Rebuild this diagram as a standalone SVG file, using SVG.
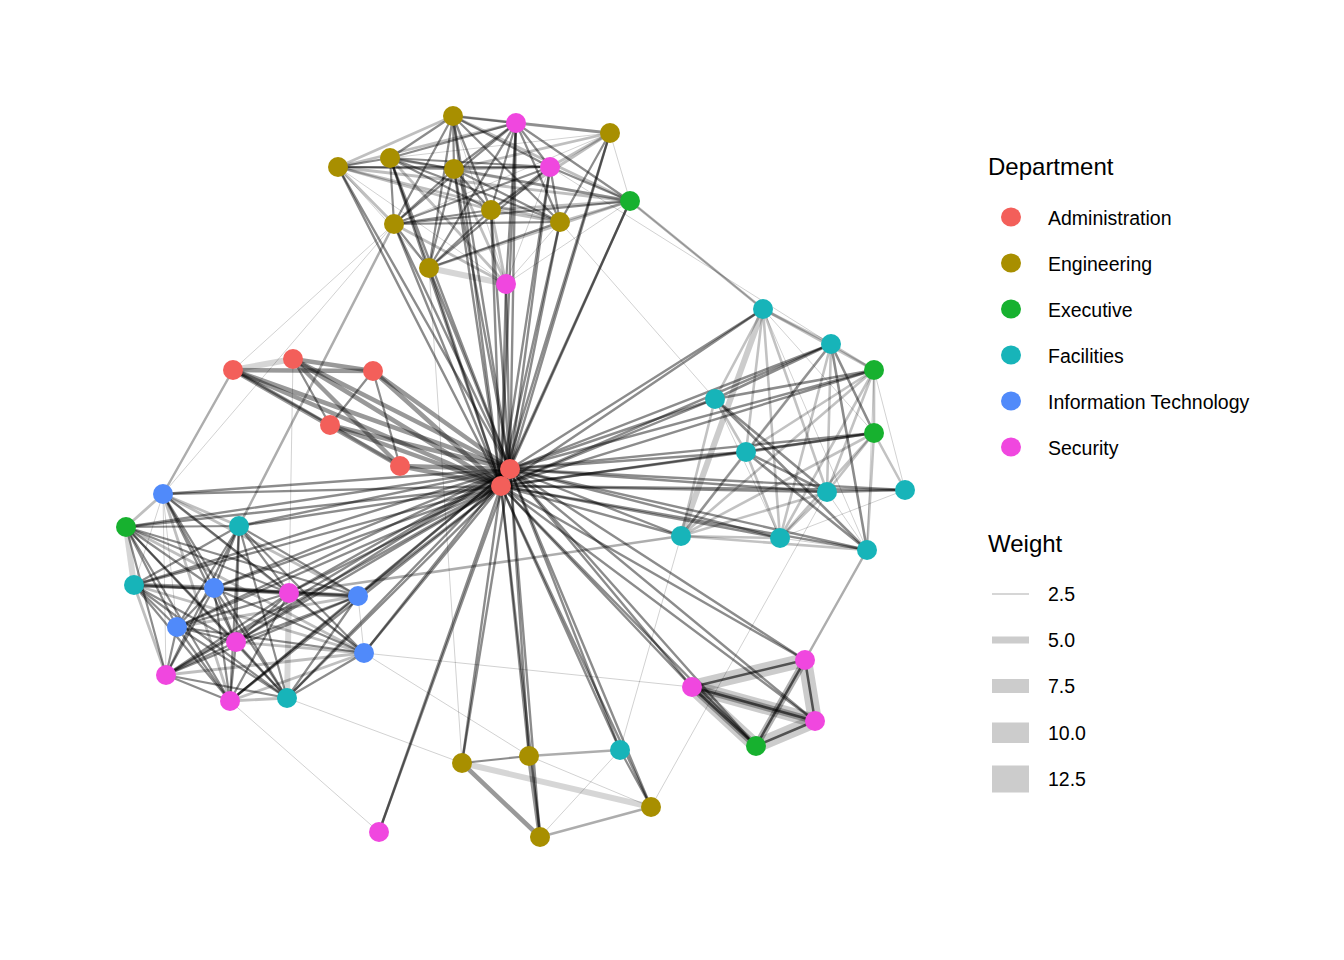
<svg xmlns="http://www.w3.org/2000/svg" width="1344" height="960" viewBox="0 0 1344 960">
<style>
line{fill:none;stroke:#000;stroke-linecap:round}
.h{stroke-opacity:.45;stroke-width:2.4}
.hb{stroke-opacity:.4;stroke-width:4.5}
.c{stroke-opacity:.45;stroke-width:2.2}
.c2{stroke-opacity:.25;stroke-width:2.8}
.t{stroke-opacity:.18;stroke-width:1}
.g{stroke-opacity:.16;stroke-width:6}
.m{stroke-opacity:.32;stroke-width:2.5}
.r{stroke-opacity:.24;stroke-width:2.6}
.rd{stroke-opacity:.45;stroke-width:2.6}
.rw{stroke-opacity:.2;stroke-width:6}
.cb{stroke-opacity:.2;stroke-width:14}
.cbm{stroke-opacity:.3;stroke-width:7}
.cbi{stroke-opacity:.6;stroke-width:2.5}
.adm{fill:#F35F5A}.eng{fill:#A88F00}.exe{fill:#17B12F}.fac{fill:#17B4B9}.it{fill:#508AFA}.sec{fill:#F047DF}
text{font-family:"Liberation Sans",Arial,sans-serif;fill:#000}
.lt{font-size:24px}.ll{font-size:19.5px}
.wb{fill:#cccccc}
</style>
<rect width="1344" height="960" fill="#fff"/>
<g id="edges">
<!-- hub edges from A6 -->
<line class="h" x1="510" y1="469" x2="453" y2="116"/>
<line class="h" x1="510" y1="469" x2="516" y2="123"/>
<line class="h" x1="510" y1="469" x2="610" y2="133"/>
<line class="h" x1="510" y1="469" x2="338" y2="167"/>
<line class="h" x1="510" y1="469" x2="390" y2="158"/>
<line class="h" x1="510" y1="469" x2="454" y2="169"/>
<line class="h" x1="510" y1="469" x2="550" y2="167"/>
<line class="h" x1="510" y1="469" x2="630" y2="201"/>
<line class="h" x1="510" y1="469" x2="491" y2="210"/>
<line class="h" x1="510" y1="469" x2="560" y2="222"/>
<line class="h" x1="510" y1="469" x2="394" y2="224"/>
<line class="h" x1="510" y1="469" x2="429" y2="268"/>
<line class="h" x1="510" y1="469" x2="506" y2="284"/>
<line class="hb" x1="510" y1="469" x2="233" y2="370"/>
<line class="hb" x1="510" y1="469" x2="293" y2="359"/>
<line class="hb" x1="510" y1="469" x2="373" y2="371"/>
<line class="hb" x1="510" y1="469" x2="330" y2="425"/>
<line class="hb" x1="510" y1="469" x2="400" y2="466"/>
<line class="h" x1="510" y1="469" x2="163" y2="494"/>
<line class="h" x1="510" y1="469" x2="126" y2="527"/>
<line class="h" x1="510" y1="469" x2="239" y2="526"/>
<line class="h" x1="510" y1="469" x2="134" y2="585"/>
<line class="h" x1="510" y1="469" x2="214" y2="588"/>
<line class="h" x1="510" y1="469" x2="289" y2="593"/>
<line class="h" x1="510" y1="469" x2="358" y2="596"/>
<line class="h" x1="510" y1="469" x2="177" y2="627"/>
<line class="h" x1="510" y1="469" x2="236" y2="642"/>
<line class="h" x1="510" y1="469" x2="364" y2="653"/>
<line class="h" x1="510" y1="469" x2="166" y2="675"/>
<line class="h" x1="510" y1="469" x2="230" y2="701"/>
<line class="h" x1="510" y1="469" x2="287" y2="698"/>
<line class="h" x1="510" y1="469" x2="763" y2="309"/>
<line class="h" x1="510" y1="469" x2="831" y2="344"/>
<line class="h" x1="510" y1="469" x2="874" y2="370"/>
<line class="h" x1="510" y1="469" x2="715" y2="399"/>
<line class="h" x1="510" y1="469" x2="874" y2="433"/>
<line class="h" x1="510" y1="469" x2="746" y2="452"/>
<line class="h" x1="510" y1="469" x2="827" y2="492"/>
<line class="h" x1="510" y1="469" x2="905" y2="490"/>
<line class="h" x1="510" y1="469" x2="681" y2="536"/>
<line class="h" x1="510" y1="469" x2="780" y2="538"/>
<line class="h" x1="510" y1="469" x2="867" y2="550"/>
<line class="h" x1="510" y1="469" x2="805" y2="660"/>
<line class="h" x1="510" y1="469" x2="692" y2="687"/>
<line class="h" x1="510" y1="469" x2="815" y2="721"/>
<line class="h" x1="510" y1="469" x2="756" y2="746"/>
<line class="h" x1="510" y1="469" x2="462" y2="763"/>
<line class="h" x1="510" y1="469" x2="529" y2="756"/>
<line class="h" x1="510" y1="469" x2="620" y2="750"/>
<line class="h" x1="510" y1="469" x2="651" y2="807"/>
<line class="h" x1="510" y1="469" x2="540" y2="837"/>
<line class="h" x1="510" y1="469" x2="379" y2="832"/>
<!-- hub edges from A7 -->
<line class="h" x1="501" y1="486" x2="453" y2="116"/>
<line class="h" x1="501" y1="486" x2="516" y2="123"/>
<line class="h" x1="501" y1="486" x2="610" y2="133"/>
<line class="h" x1="501" y1="486" x2="338" y2="167"/>
<line class="h" x1="501" y1="486" x2="390" y2="158"/>
<line class="h" x1="501" y1="486" x2="454" y2="169"/>
<line class="h" x1="501" y1="486" x2="550" y2="167"/>
<line class="h" x1="501" y1="486" x2="630" y2="201"/>
<line class="h" x1="501" y1="486" x2="491" y2="210"/>
<line class="h" x1="501" y1="486" x2="560" y2="222"/>
<line class="h" x1="501" y1="486" x2="394" y2="224"/>
<line class="h" x1="501" y1="486" x2="429" y2="268"/>
<line class="h" x1="501" y1="486" x2="506" y2="284"/>
<line class="hb" x1="501" y1="486" x2="233" y2="370"/>
<line class="hb" x1="501" y1="486" x2="293" y2="359"/>
<line class="hb" x1="501" y1="486" x2="373" y2="371"/>
<line class="hb" x1="501" y1="486" x2="330" y2="425"/>
<line class="hb" x1="501" y1="486" x2="400" y2="466"/>
<line class="h" x1="501" y1="486" x2="163" y2="494"/>
<line class="h" x1="501" y1="486" x2="126" y2="527"/>
<line class="h" x1="501" y1="486" x2="239" y2="526"/>
<line class="h" x1="501" y1="486" x2="134" y2="585"/>
<line class="h" x1="501" y1="486" x2="214" y2="588"/>
<line class="h" x1="501" y1="486" x2="289" y2="593"/>
<line class="h" x1="501" y1="486" x2="358" y2="596"/>
<line class="h" x1="501" y1="486" x2="177" y2="627"/>
<line class="h" x1="501" y1="486" x2="236" y2="642"/>
<line class="h" x1="501" y1="486" x2="364" y2="653"/>
<line class="h" x1="501" y1="486" x2="166" y2="675"/>
<line class="h" x1="501" y1="486" x2="230" y2="701"/>
<line class="h" x1="501" y1="486" x2="287" y2="698"/>
<line class="h" x1="501" y1="486" x2="763" y2="309"/>
<line class="h" x1="501" y1="486" x2="831" y2="344"/>
<line class="h" x1="501" y1="486" x2="874" y2="370"/>
<line class="h" x1="501" y1="486" x2="715" y2="399"/>
<line class="h" x1="501" y1="486" x2="874" y2="433"/>
<line class="h" x1="501" y1="486" x2="746" y2="452"/>
<line class="h" x1="501" y1="486" x2="827" y2="492"/>
<line class="h" x1="501" y1="486" x2="905" y2="490"/>
<line class="h" x1="501" y1="486" x2="681" y2="536"/>
<line class="h" x1="501" y1="486" x2="780" y2="538"/>
<line class="h" x1="501" y1="486" x2="867" y2="550"/>
<line class="h" x1="501" y1="486" x2="805" y2="660"/>
<line class="h" x1="501" y1="486" x2="692" y2="687"/>
<line class="h" x1="501" y1="486" x2="815" y2="721"/>
<line class="h" x1="501" y1="486" x2="756" y2="746"/>
<line class="h" x1="501" y1="486" x2="462" y2="763"/>
<line class="h" x1="501" y1="486" x2="529" y2="756"/>
<line class="h" x1="501" y1="486" x2="620" y2="750"/>
<line class="h" x1="501" y1="486" x2="651" y2="807"/>
<line class="h" x1="501" y1="486" x2="540" y2="837"/>
<line class="h" x1="501" y1="486" x2="379" y2="832"/>
<line class="hb" x1="501" y1="486" x2="510" y2="469"/>
<!-- top cluster -->
<line class="c" x1="453" y1="116" x2="516" y2="123"/>
<line class="c2" x1="453" y1="116" x2="610" y2="133"/>
<line class="c2" x1="453" y1="116" x2="338" y2="167"/>
<line class="c" x1="453" y1="116" x2="390" y2="158"/>
<line class="c" x1="453" y1="116" x2="454" y2="169"/>
<line class="c" x1="453" y1="116" x2="550" y2="167"/>
<line class="c2" x1="453" y1="116" x2="630" y2="201"/>
<line class="c" x1="453" y1="116" x2="491" y2="210"/>
<line class="c" x1="453" y1="116" x2="560" y2="222"/>
<line class="c" x1="453" y1="116" x2="394" y2="224"/>
<line class="c" x1="453" y1="116" x2="429" y2="268"/>
<line class="t" x1="453" y1="116" x2="506" y2="284"/>
<line class="c2" x1="516" y1="123" x2="610" y2="133"/>
<line class="c2" x1="516" y1="123" x2="338" y2="167"/>
<line class="c" x1="516" y1="123" x2="390" y2="158"/>
<line class="c" x1="516" y1="123" x2="454" y2="169"/>
<line class="c" x1="516" y1="123" x2="550" y2="167"/>
<line class="c" x1="516" y1="123" x2="630" y2="201"/>
<line class="c" x1="516" y1="123" x2="491" y2="210"/>
<line class="c" x1="516" y1="123" x2="560" y2="222"/>
<line class="c" x1="516" y1="123" x2="394" y2="224"/>
<line class="c" x1="516" y1="123" x2="429" y2="268"/>
<line class="c" x1="516" y1="123" x2="506" y2="284"/>
<line class="c2" x1="610" y1="133" x2="550" y2="167"/>
<line class="c2" x1="610" y1="133" x2="454" y2="169"/>
<line class="t" x1="610" y1="133" x2="390" y2="158"/>
<line class="t" x1="610" y1="133" x2="394" y2="224"/>
<line class="c" x1="610" y1="133" x2="560" y2="222"/>
<line class="t" x1="610" y1="133" x2="630" y2="201"/>
<line class="c2" x1="610" y1="133" x2="491" y2="210"/>
<line class="c" x1="338" y1="167" x2="390" y2="158"/>
<line class="c" x1="338" y1="167" x2="454" y2="169"/>
<line class="c" x1="338" y1="167" x2="550" y2="167"/>
<line class="c2" x1="338" y1="167" x2="491" y2="210"/>
<line class="c2" x1="338" y1="167" x2="630" y2="201"/>
<line class="c2" x1="338" y1="167" x2="560" y2="222"/>
<line class="c2" x1="338" y1="167" x2="394" y2="224"/>
<line class="t" x1="338" y1="167" x2="429" y2="268"/>
<line class="t" x1="338" y1="167" x2="506" y2="284"/>
<line class="c" x1="390" y1="158" x2="454" y2="169"/>
<line class="c" x1="390" y1="158" x2="550" y2="167"/>
<line class="c" x1="390" y1="158" x2="394" y2="224"/>
<line class="c" x1="390" y1="158" x2="429" y2="268"/>
<line class="c" x1="390" y1="158" x2="491" y2="210"/>
<line class="c" x1="390" y1="158" x2="560" y2="222"/>
<line class="c2" x1="390" y1="158" x2="630" y2="201"/>
<line class="c2" x1="390" y1="158" x2="506" y2="284"/>
<line class="c" x1="454" y1="169" x2="550" y2="167"/>
<line class="c" x1="454" y1="169" x2="429" y2="268"/>
<line class="c" x1="454" y1="169" x2="491" y2="210"/>
<line class="c" x1="454" y1="169" x2="560" y2="222"/>
<line class="c2" x1="454" y1="169" x2="630" y2="201"/>
<line class="c" x1="454" y1="169" x2="394" y2="224"/>
<line class="c2" x1="454" y1="169" x2="506" y2="284"/>
<line class="c" x1="550" y1="167" x2="394" y2="224"/>
<line class="c" x1="550" y1="167" x2="429" y2="268"/>
<line class="c" x1="550" y1="167" x2="491" y2="210"/>
<line class="c" x1="550" y1="167" x2="560" y2="222"/>
<line class="c" x1="550" y1="167" x2="630" y2="201"/>
<line class="t" x1="550" y1="167" x2="506" y2="284"/>
<line class="c" x1="394" y1="224" x2="429" y2="268"/>
<line class="c" x1="394" y1="224" x2="491" y2="210"/>
<line class="c" x1="394" y1="224" x2="560" y2="222"/>
<line class="c" x1="394" y1="224" x2="630" y2="201"/>
<line class="c2" x1="394" y1="224" x2="506" y2="284"/>
<line class="g" x1="429" y1="268" x2="506" y2="284"/>
<line class="c" x1="429" y1="268" x2="491" y2="210"/>
<line class="c" x1="429" y1="268" x2="560" y2="222"/>
<line class="c2" x1="429" y1="268" x2="630" y2="201"/>
<line class="c2" x1="491" y1="210" x2="560" y2="222"/>
<line class="c2" x1="491" y1="210" x2="630" y2="201"/>
<line class="c2" x1="491" y1="210" x2="506" y2="284"/>
<line class="c2" x1="560" y1="222" x2="630" y2="201"/>
<line class="t" x1="560" y1="222" x2="506" y2="284"/>
<line class="t" x1="630" y1="201" x2="506" y2="284"/>
<!-- admin cluster -->
<line class="g" x1="233" y1="370" x2="293" y2="359"/>
<line class="hb" x1="233" y1="370" x2="373" y2="371"/>
<line class="c" x1="233" y1="370" x2="330" y2="425"/>
<line class="hb" x1="233" y1="370" x2="400" y2="466"/>
<line class="hb" x1="293" y1="359" x2="373" y2="371"/>
<line class="c" x1="293" y1="359" x2="330" y2="425"/>
<line class="hb" x1="293" y1="359" x2="400" y2="466"/>
<line class="c" x1="373" y1="371" x2="330" y2="425"/>
<line class="c" x1="373" y1="371" x2="400" y2="466"/>
<line class="c2" x1="330" y1="425" x2="400" y2="466"/>
<!-- left cluster -->
<line class="c2" x1="163" y1="494" x2="126" y2="527"/>
<line class="c2" x1="163" y1="494" x2="239" y2="526"/>
<line class="t" x1="163" y1="494" x2="134" y2="585"/>
<line class="c" x1="163" y1="494" x2="214" y2="588"/>
<line class="c" x1="163" y1="494" x2="289" y2="593"/>
<line class="c2" x1="163" y1="494" x2="358" y2="596"/>
<line class="t" x1="163" y1="494" x2="177" y2="627"/>
<line class="c" x1="163" y1="494" x2="236" y2="642"/>
<line class="c2" x1="163" y1="494" x2="364" y2="653"/>
<line class="t" x1="163" y1="494" x2="166" y2="675"/>
<line class="c2" x1="163" y1="494" x2="230" y2="701"/>
<line class="c" x1="163" y1="494" x2="287" y2="698"/>
<line class="c" x1="126" y1="527" x2="239" y2="526"/>
<line class="g" x1="126" y1="527" x2="134" y2="585"/>
<line class="c" x1="126" y1="527" x2="214" y2="588"/>
<line class="c" x1="126" y1="527" x2="289" y2="593"/>
<line class="c" x1="126" y1="527" x2="358" y2="596"/>
<line class="c" x1="126" y1="527" x2="177" y2="627"/>
<line class="c" x1="126" y1="527" x2="236" y2="642"/>
<line class="c2" x1="126" y1="527" x2="364" y2="653"/>
<line class="c" x1="126" y1="527" x2="166" y2="675"/>
<line class="c" x1="126" y1="527" x2="230" y2="701"/>
<line class="c" x1="126" y1="527" x2="287" y2="698"/>
<line class="c" x1="239" y1="526" x2="134" y2="585"/>
<line class="c" x1="239" y1="526" x2="214" y2="588"/>
<line class="c" x1="239" y1="526" x2="289" y2="593"/>
<line class="c" x1="239" y1="526" x2="358" y2="596"/>
<line class="c" x1="239" y1="526" x2="177" y2="627"/>
<line class="c" x1="239" y1="526" x2="236" y2="642"/>
<line class="c" x1="239" y1="526" x2="364" y2="653"/>
<line class="c" x1="239" y1="526" x2="166" y2="675"/>
<line class="c" x1="239" y1="526" x2="230" y2="701"/>
<line class="c" x1="239" y1="526" x2="287" y2="698"/>
<line class="hb" x1="134" y1="585" x2="214" y2="588"/>
<line class="c" x1="134" y1="585" x2="289" y2="593"/>
<line class="c2" x1="134" y1="585" x2="358" y2="596"/>
<line class="c" x1="134" y1="585" x2="177" y2="627"/>
<line class="c" x1="134" y1="585" x2="236" y2="642"/>
<line class="c2" x1="134" y1="585" x2="364" y2="653"/>
<line class="c2" x1="134" y1="585" x2="166" y2="675"/>
<line class="c" x1="134" y1="585" x2="230" y2="701"/>
<line class="c" x1="134" y1="585" x2="287" y2="698"/>
<line class="hb" x1="214" y1="588" x2="289" y2="593"/>
<line class="c" x1="214" y1="588" x2="358" y2="596"/>
<line class="c" x1="214" y1="588" x2="177" y2="627"/>
<line class="c" x1="214" y1="588" x2="236" y2="642"/>
<line class="c" x1="214" y1="588" x2="364" y2="653"/>
<line class="c" x1="214" y1="588" x2="166" y2="675"/>
<line class="c" x1="214" y1="588" x2="230" y2="701"/>
<line class="c" x1="214" y1="588" x2="287" y2="698"/>
<line class="hb" x1="289" y1="593" x2="358" y2="596"/>
<line class="c" x1="289" y1="593" x2="177" y2="627"/>
<line class="c" x1="289" y1="593" x2="236" y2="642"/>
<line class="c" x1="289" y1="593" x2="364" y2="653"/>
<line class="c" x1="289" y1="593" x2="166" y2="675"/>
<line class="c" x1="289" y1="593" x2="230" y2="701"/>
<line class="g" x1="289" y1="593" x2="287" y2="698"/>
<line class="c2" x1="358" y1="596" x2="177" y2="627"/>
<line class="c" x1="358" y1="596" x2="236" y2="642"/>
<line class="t" x1="358" y1="596" x2="364" y2="653"/>
<line class="c" x1="358" y1="596" x2="166" y2="675"/>
<line class="c" x1="358" y1="596" x2="230" y2="701"/>
<line class="c" x1="358" y1="596" x2="287" y2="698"/>
<line class="c" x1="177" y1="627" x2="236" y2="642"/>
<line class="c" x1="177" y1="627" x2="364" y2="653"/>
<line class="c" x1="177" y1="627" x2="166" y2="675"/>
<line class="c" x1="177" y1="627" x2="230" y2="701"/>
<line class="c" x1="177" y1="627" x2="287" y2="698"/>
<line class="c2" x1="236" y1="642" x2="364" y2="653"/>
<line class="c" x1="236" y1="642" x2="166" y2="675"/>
<line class="c" x1="236" y1="642" x2="230" y2="701"/>
<line class="c" x1="236" y1="642" x2="287" y2="698"/>
<line class="c2" x1="364" y1="653" x2="166" y2="675"/>
<line class="c2" x1="364" y1="653" x2="230" y2="701"/>
<line class="c" x1="364" y1="653" x2="287" y2="698"/>
<line class="c" x1="166" y1="675" x2="230" y2="701"/>
<line class="c" x1="166" y1="675" x2="287" y2="698"/>
<line class="c2" x1="230" y1="701" x2="287" y2="698"/>
<!-- right cluster -->
<line class="r" x1="763" y1="309" x2="831" y2="344"/>
<line class="r" x1="763" y1="309" x2="874" y2="370"/>
<line class="r" x1="763" y1="309" x2="715" y2="399"/>
<line class="r" x1="763" y1="309" x2="746" y2="452"/>
<line class="rw" x1="763" y1="309" x2="681" y2="536"/>
<line class="r" x1="763" y1="309" x2="780" y2="538"/>
<line class="r" x1="763" y1="309" x2="827" y2="492"/>
<line class="t" x1="763" y1="309" x2="874" y2="433"/>
<line class="t" x1="763" y1="309" x2="867" y2="550"/>
<line class="r" x1="831" y1="344" x2="874" y2="370"/>
<line class="rd" x1="831" y1="344" x2="715" y2="399"/>
<line class="r" x1="831" y1="344" x2="746" y2="452"/>
<line class="r" x1="831" y1="344" x2="681" y2="536"/>
<line class="rd" x1="831" y1="344" x2="874" y2="433"/>
<line class="r" x1="831" y1="344" x2="827" y2="492"/>
<line class="r" x1="831" y1="344" x2="780" y2="538"/>
<line class="rd" x1="831" y1="344" x2="867" y2="550"/>
<line class="rd" x1="874" y1="370" x2="715" y2="399"/>
<line class="r" x1="874" y1="370" x2="746" y2="452"/>
<line class="r" x1="874" y1="370" x2="681" y2="536"/>
<line class="r" x1="874" y1="370" x2="780" y2="538"/>
<line class="r" x1="874" y1="370" x2="827" y2="492"/>
<line class="r" x1="874" y1="370" x2="874" y2="433"/>
<line class="t" x1="874" y1="370" x2="905" y2="490"/>
<line class="t" x1="874" y1="370" x2="867" y2="550"/>
<line class="rd" x1="874" y1="433" x2="746" y2="452"/>
<line class="r" x1="874" y1="433" x2="681" y2="536"/>
<line class="r" x1="874" y1="433" x2="780" y2="538"/>
<line class="r" x1="874" y1="433" x2="867" y2="550"/>
<line class="r" x1="874" y1="433" x2="905" y2="490"/>
<line class="r" x1="874" y1="433" x2="827" y2="492"/>
<line class="r" x1="715" y1="399" x2="746" y2="452"/>
<line class="rd" x1="715" y1="399" x2="827" y2="492"/>
<line class="rd" x1="715" y1="399" x2="867" y2="550"/>
<line class="r" x1="715" y1="399" x2="681" y2="536"/>
<line class="t" x1="715" y1="399" x2="780" y2="538"/>
<line class="rd" x1="746" y1="452" x2="827" y2="492"/>
<line class="r" x1="746" y1="452" x2="780" y2="538"/>
<line class="rd" x1="746" y1="452" x2="867" y2="550"/>
<line class="r" x1="746" y1="452" x2="681" y2="536"/>
<line class="rd" x1="827" y1="492" x2="905" y2="490"/>
<line class="r" x1="827" y1="492" x2="681" y2="536"/>
<line class="r" x1="827" y1="492" x2="780" y2="538"/>
<line class="t" x1="827" y1="492" x2="867" y2="550"/>
<line class="r" x1="681" y1="536" x2="780" y2="538"/>
<line class="r" x1="681" y1="536" x2="867" y2="550"/>
<line class="t" x1="780" y1="538" x2="867" y2="550"/>
<line class="t" x1="905" y1="490" x2="780" y2="538"/>
<!-- lower right cluster -->
<line class="cb" x1="692" y1="687" x2="805" y2="660"/>
<line class="cbi" x1="692" y1="687" x2="805" y2="660"/>
<line class="cb" x1="692" y1="687" x2="815" y2="721"/>
<line class="cbm" x1="692" y1="687" x2="815" y2="721"/>
<line class="cbi" x1="692" y1="687" x2="815" y2="721"/>
<line class="cb" x1="692" y1="687" x2="756" y2="746"/>
<line class="cbm" x1="692" y1="687" x2="756" y2="746"/>
<line class="cbi" x1="692" y1="687" x2="756" y2="746"/>
<line class="cbm" x1="805" y1="660" x2="756" y2="746"/>
<line class="cbi" x1="805" y1="660" x2="756" y2="746"/>
<line class="cb" x1="805" y1="660" x2="815" y2="721"/>
<line class="cbi" x1="805" y1="660" x2="815" y2="721"/>
<line class="cb" x1="815" y1="721" x2="756" y2="746"/>
<line class="cbi" x1="815" y1="721" x2="756" y2="746"/>
<!-- bottom cluster -->
<line class="c" x1="462" y1="763" x2="529" y2="756"/>
<line class="hb" x1="462" y1="763" x2="540" y2="837"/>
<line class="g" x1="462" y1="763" x2="651" y2="807"/>
<line class="hb" x1="529" y1="756" x2="540" y2="837"/>
<line class="m" x1="529" y1="756" x2="620" y2="750"/>
<line class="t" x1="529" y1="756" x2="651" y2="807"/>
<line class="t" x1="620" y1="750" x2="540" y2="837"/>
<line class="m" x1="540" y1="837" x2="651" y2="807"/>
<line class="c" x1="620" y1="750" x2="651" y2="807"/>
<!-- cross-cluster -->
<line class="m" x1="233" y1="370" x2="163" y2="494"/>
<line class="t" x1="233" y1="370" x2="394" y2="224"/>
<line class="t" x1="163" y1="494" x2="394" y2="224"/>
<line class="m" x1="239" y1="526" x2="394" y2="224"/>
<line class="t" x1="293" y1="359" x2="289" y2="593"/>
<line class="m" x1="289" y1="593" x2="681" y2="536"/>
<line class="t" x1="364" y1="653" x2="692" y2="687"/>
<line class="t" x1="364" y1="653" x2="529" y2="756"/>
<line class="t" x1="287" y1="698" x2="462" y2="763"/>
<line class="t" x1="230" y1="701" x2="379" y2="832"/>
<line class="t" x1="429" y1="268" x2="462" y2="763"/>
<line class="t" x1="681" y1="536" x2="620" y2="750"/>
<line class="t" x1="651" y1="807" x2="827" y2="492"/>
<line class="m" x1="867" y1="550" x2="805" y2="660"/>
<line class="m" x1="630" y1="201" x2="763" y2="309"/>
<line class="t" x1="630" y1="201" x2="763" y2="309"/>
<line class="t" x1="560" y1="222" x2="715" y2="399"/>
<line class="t" x1="550" y1="167" x2="831" y2="344"/>
</g>
<g id="nodes">
<g id="n-E1"><circle class="eng" cx="453" cy="116" r="10"/></g>
<g id="n-S1"><circle class="sec" cx="516" cy="123" r="10"/></g>
<g id="n-E2"><circle class="eng" cx="610" cy="133" r="10"/></g>
<g id="n-E3"><circle class="eng" cx="338" cy="167" r="10"/></g>
<g id="n-E4"><circle class="eng" cx="390" cy="158" r="10"/></g>
<g id="n-E5"><circle class="eng" cx="454" cy="169" r="10"/></g>
<g id="n-S2"><circle class="sec" cx="550" cy="167" r="10"/></g>
<g id="n-X1"><circle class="exe" cx="630" cy="201" r="10"/></g>
<g id="n-E6"><circle class="eng" cx="491" cy="210" r="10"/></g>
<g id="n-E7"><circle class="eng" cx="560" cy="222" r="10"/></g>
<g id="n-E8"><circle class="eng" cx="394" cy="224" r="10"/></g>
<g id="n-E9"><circle class="eng" cx="429" cy="268" r="10"/></g>
<g id="n-S3"><circle class="sec" cx="506" cy="284" r="10"/></g>
<g id="n-A1"><circle class="adm" cx="233" cy="370" r="10"/></g>
<g id="n-A2"><circle class="adm" cx="293" cy="359" r="10"/></g>
<g id="n-A3"><circle class="adm" cx="373" cy="371" r="10"/></g>
<g id="n-A4"><circle class="adm" cx="330" cy="425" r="10"/></g>
<g id="n-A5"><circle class="adm" cx="400" cy="466" r="10"/></g>
<g id="n-A6"><circle class="adm" cx="510" cy="469" r="10"/></g>
<g id="n-A7"><circle class="adm" cx="501" cy="486" r="10"/></g>
<g id="n-I1"><circle class="it" cx="163" cy="494" r="10"/></g>
<g id="n-X5"><circle class="exe" cx="126" cy="527" r="10"/></g>
<g id="n-F11"><circle class="fac" cx="239" cy="526" r="10"/></g>
<g id="n-F12"><circle class="fac" cx="134" cy="585" r="10"/></g>
<g id="n-I2"><circle class="it" cx="214" cy="588" r="10"/></g>
<g id="n-S8"><circle class="sec" cx="289" cy="593" r="10"/></g>
<g id="n-I3"><circle class="it" cx="358" cy="596" r="10"/></g>
<g id="n-I4"><circle class="it" cx="177" cy="627" r="10"/></g>
<g id="n-S9"><circle class="sec" cx="236" cy="642" r="10"/></g>
<g id="n-I5"><circle class="it" cx="364" cy="653" r="10"/></g>
<g id="n-S10"><circle class="sec" cx="166" cy="675" r="10"/></g>
<g id="n-S11"><circle class="sec" cx="230" cy="701" r="10"/></g>
<g id="n-F13"><circle class="fac" cx="287" cy="698" r="10"/></g>
<g id="n-F1"><circle class="fac" cx="763" cy="309" r="10"/></g>
<g id="n-F2"><circle class="fac" cx="831" cy="344" r="10"/></g>
<g id="n-X2"><circle class="exe" cx="874" cy="370" r="10"/></g>
<g id="n-F3"><circle class="fac" cx="715" cy="399" r="10"/></g>
<g id="n-X3"><circle class="exe" cx="874" cy="433" r="10"/></g>
<g id="n-F4"><circle class="fac" cx="746" cy="452" r="10"/></g>
<g id="n-F5"><circle class="fac" cx="827" cy="492" r="10"/></g>
<g id="n-F6"><circle class="fac" cx="905" cy="490" r="10"/></g>
<g id="n-F7"><circle class="fac" cx="681" cy="536" r="10"/></g>
<g id="n-F8"><circle class="fac" cx="780" cy="538" r="10"/></g>
<g id="n-F9"><circle class="fac" cx="867" cy="550" r="10"/></g>
<g id="n-S4"><circle class="sec" cx="805" cy="660" r="10"/></g>
<g id="n-S5"><circle class="sec" cx="692" cy="687" r="10"/></g>
<g id="n-S6"><circle class="sec" cx="815" cy="721" r="10"/></g>
<g id="n-X4"><circle class="exe" cx="756" cy="746" r="10"/></g>
<g id="n-E10"><circle class="eng" cx="462" cy="763" r="10"/></g>
<g id="n-E11"><circle class="eng" cx="529" cy="756" r="10"/></g>
<g id="n-F10"><circle class="fac" cx="620" cy="750" r="10"/></g>
<g id="n-E12"><circle class="eng" cx="651" cy="807" r="10"/></g>
<g id="n-E13"><circle class="eng" cx="540" cy="837" r="10"/></g>
<g id="n-S7"><circle class="sec" cx="379" cy="832" r="10"/></g>
</g>
<g id="legend">
<text class="lt" x="988" y="175">Department</text>
<ellipse class="adm" cx="1011" cy="217" rx="10" ry="9.5"/>
<text class="ll" x="1048" y="225">Administration</text>
<ellipse class="eng" cx="1011" cy="263" rx="10" ry="9.5"/>
<text class="ll" x="1048" y="271">Engineering</text>
<ellipse class="exe" cx="1011" cy="309" rx="10" ry="9.5"/>
<text class="ll" x="1048" y="317">Executive</text>
<ellipse class="fac" cx="1011" cy="355" rx="10" ry="9.5"/>
<text class="ll" x="1048" y="363">Facilities</text>
<ellipse class="it" cx="1011" cy="401" rx="10" ry="9.5"/>
<text class="ll" x="1048" y="409">Information Technology</text>
<ellipse class="sec" cx="1011" cy="447" rx="10" ry="9.5"/>
<text class="ll" x="1048" y="455">Security</text>
<text class="lt" x="988" y="552">Weight</text>
<rect class="wb" x="992" y="593.2" width="37" height="1.6"/>
<text class="ll" x="1048" y="601">2.5</text>
<rect class="wb" x="992" y="636.5" width="37" height="7"/>
<text class="ll" x="1048" y="647">5.0</text>
<rect class="wb" x="992" y="679" width="37" height="14"/>
<text class="ll" x="1048" y="693">7.5</text>
<rect class="wb" x="992" y="722.5" width="37" height="20.5"/>
<text class="ll" x="1048" y="740">10.0</text>
<rect class="wb" x="992" y="765.5" width="37" height="27"/>
<text class="ll" x="1048" y="786">12.5</text>
</g>
</svg>
